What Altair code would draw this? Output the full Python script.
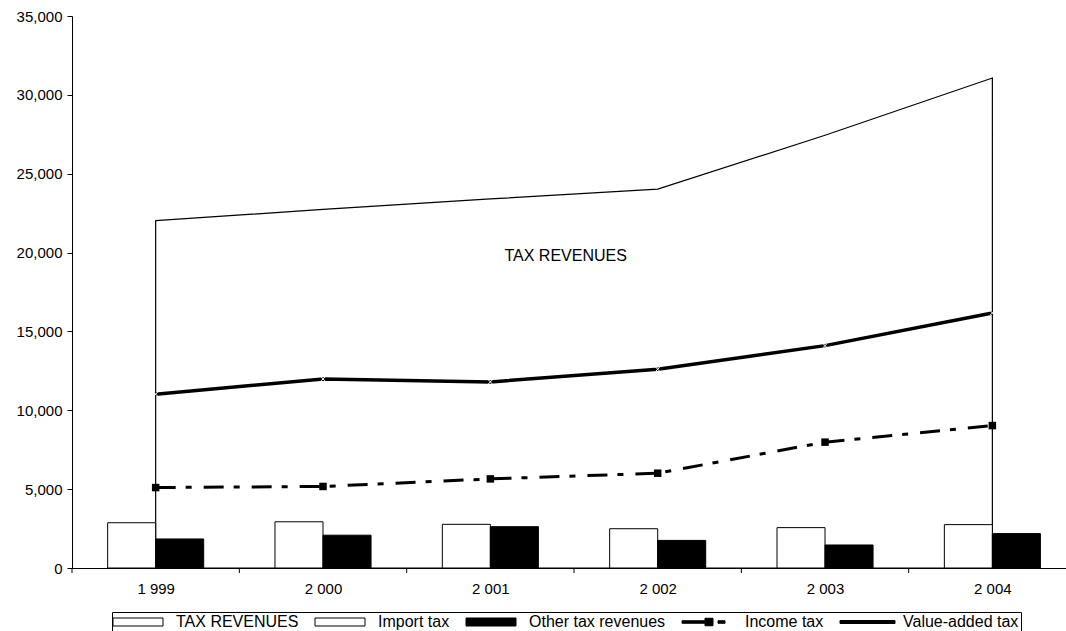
import altair as alt
import pandas as pd

# ---- data -------------------------------------------------------------
years = [1999, 2000, 2001, 2002, 2003, 2004]
tax_revenues = [22020, 22740, 23400, 24020, 27440, 31070]
value_added_tax = [11020, 11990, 11800, 12600, 14100, 16170]
income_tax = [5100, 5170, 5650, 6010, 7980, 9030]
import_tax = [2870, 2930, 2770, 2490, 2560, 2750]
other_tax = [1840, 2080, 2620, 1750, 1460, 2180]

series_names = ["TAX REVENUES", "Import tax", "Other tax revenues",
                "Income tax", "Value-added tax"]
series_fills = ["white", "white", "black", "black", "black"]

area_label = "TAX REVENUES"
area_label_x = 2001.45
area_label_y = 19800

y_ticks = [0, 5000, 10000, 15000, 20000, 25000, 30000, 35000]

# ---- layout -----------------------------------------------------------
FONT = "Liberation Sans"
W, H = 994, 552
X_MIN, X_MAX = 1998.5, 2004.44
BAR_W = 0.287  # bar width in year units

df = pd.DataFrame({
    "year": years,
    "tax": tax_revenues,
    "vat": value_added_tax,
    "income": income_tax,
    "import": import_tax,
    "other": other_tax,
})

x_scale = alt.Scale(domain=[X_MIN, X_MAX], nice=False, zero=False)
x_axis = alt.Axis(
    title=None,
    values=years,
    labelExpr="replace(format(datum.value, ','), ',', ' ')",
    labelFont=FONT, labelFontSize=15, labelColor="black",
    labelPadding=13, labelOverlap=False, labelFlush=False,
    ticks=False, domainColor="black",
    grid=False,
)
y_scale = alt.Scale(domain=[0, 35000], nice=False)
y_axis = alt.Axis(
    title=None, values=y_ticks,
    labelExpr="format(datum.value, ',')",
    labelFont=FONT, labelFontSize=15, labelColor="black",
    labelPadding=5, tickSize=5, tickColor="black", domainColor="black",
    grid=False,
)

base = alt.Chart(df)

area = base.mark_area(fill="white", stroke="black", strokeWidth=1.2).encode(
    x=alt.X("year:Q", scale=x_scale, axis=x_axis),
    y=alt.Y("tax:Q", scale=y_scale, axis=y_axis),
)

import_bars = base.transform_calculate(
    x0=f"datum.year - {BAR_W}", x1="datum.year"
).mark_rect(fill="white", stroke="black", strokeWidth=1).encode(
    x=alt.X("x0:Q", scale=x_scale, axis=x_axis),
    x2="x1:Q",
    y=alt.Y("import:Q", scale=y_scale, axis=y_axis),
    y2=alt.datum(0),
)

other_bars = base.transform_calculate(
    x0="datum.year", x1=f"datum.year + {BAR_W}"
).mark_rect(fill="black", stroke="black", strokeWidth=1).encode(
    x=alt.X("x0:Q", scale=x_scale, axis=x_axis),
    x2="x1:Q",
    y=alt.Y("other:Q", scale=y_scale, axis=y_axis),
    y2=alt.datum(0),
)

# category-boundary tick marks below the x axis
x_ticks = base.transform_calculate(
    edge="datum.year - 0.5"
).mark_rule(color="black", strokeWidth=1).encode(
    x=alt.X("edge:Q", scale=x_scale, axis=x_axis),
    y=alt.value(H),
    y2=alt.value(H + 5),
)

income_line = base.mark_line(
    color="black", strokeWidth=3, strokeDash=[20, 10, 6, 12]
).encode(
    x=alt.X("year:Q", scale=x_scale, axis=x_axis),
    y=alt.Y("income:Q", scale=y_scale, axis=y_axis),
)
income_pts = base.mark_point(
    shape="square", filled=True, color="black", size=56, opacity=1
).encode(
    x=alt.X("year:Q", scale=x_scale, axis=x_axis),
    y=alt.Y("income:Q", scale=y_scale, axis=y_axis),
)

vat_line = base.mark_line(color="black", strokeWidth=3.5).encode(
    x=alt.X("year:Q", scale=x_scale, axis=x_axis),
    y=alt.Y("vat:Q", scale=y_scale, axis=y_axis),
)
vat_pts = base.mark_point(
    shape="M-1,-1L1,1M-1,1L1,-1", stroke="white", strokeWidth=1,
    size=16, filled=False, opacity=1
).encode(
    x=alt.X("year:Q", scale=x_scale, axis=x_axis),
    y=alt.Y("vat:Q", scale=y_scale, axis=y_axis),
)

label = alt.Chart(pd.DataFrame({
    "x": [area_label_x], "y": [area_label_y], "t": [area_label]
})).mark_text(font=FONT, fontSize=16, color="black").encode(
    x=alt.X("x:Q", scale=x_scale, axis=x_axis),
    y=alt.Y("y:Q", scale=y_scale, axis=y_axis),
    text="t:N",
)

# legend symbols as filled paths (unit = 5 px with symbolSize 100)
RECT = "M-1.8,-0.8H8.2V0.8H-1.8Z"
DASH_SQ = ("M-1.8,-0.25H2.8V0.25H-1.8Z"
           "M2.8,-0.75H4.4V0.75H2.8Z"
           "M5.4,-0.25H6.8V0.25H5.4Z")
THICK = "M-1.8,-0.3H9.2V0.3H-1.8Z"
series_shapes = [RECT, RECT, RECT, DASH_SQ, THICK]

legend = alt.Legend(
    orient="none", legendX=40, legendY=596,
    direction="horizontal", columns=5, title=None,
    labelFont=FONT, labelFontSize=16, labelColor="black",
    symbolSize=100, labelOffset=46, columnPadding=14,
    symbolStrokeWidth=1, symbolOpacity=1,
    padding=2, strokeColor="black", fillColor="white",
)
legend_layer = alt.Chart(pd.DataFrame({"series": series_names})).mark_point(
    filled=True, opacity=0
).encode(
    fill=alt.Fill("series:N",
                  scale=alt.Scale(domain=series_names, range=series_fills),
                  legend=legend),
    stroke=alt.Stroke("series:N",
                      scale=alt.Scale(domain=series_names,
                                      range=["black"] * len(series_names)),
                      legend=legend),
    shape=alt.Shape("series:N",
                    scale=alt.Scale(domain=series_names, range=series_shapes),
                    legend=legend),
)

chart = alt.layer(
    area, import_bars, other_bars, x_ticks, income_line, income_pts,
    vat_line, vat_pts, label, legend_layer,
).properties(
    width=W, height=H,
    padding={"left": 72, "top": 16, "right": 0, "bottom": 63},
    autosize=alt.AutoSizeParams(type="none"),
    background="white",
).configure_view(stroke=None)

chart.save("out.html", embed_options={"renderer": "svg", "actions": False})
